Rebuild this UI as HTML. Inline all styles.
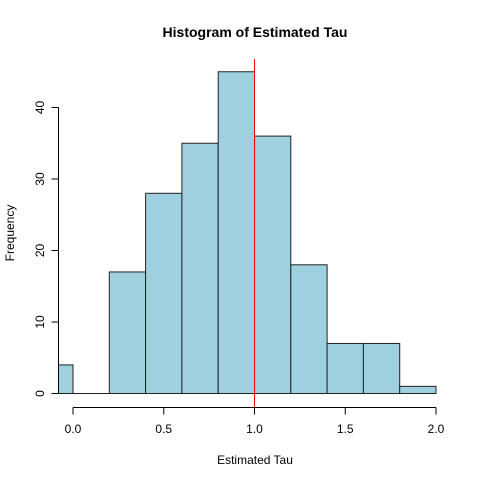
<!DOCTYPE html>
<html><head><meta charset="utf-8"><style>
body{margin:0;background:#fff;}
svg{display:block;font-family:"Liberation Sans",Arial,sans-serif;}
</style></head><body>
<svg id="chart" width="480" height="480">
<defs><clipPath id="plotclip"><rect x="58.5" y="59" width="392" height="348"/></clipPath></defs>
<text x="255" y="37" text-anchor="middle" font-size="14" font-weight="bold">Histogram of Estimated Tau</text>
<text x="255" y="464" text-anchor="middle" font-size="12">Estimated Tau</text>
<text transform="translate(14,233) rotate(-90)" text-anchor="middle" font-size="12">Frequency</text>
<g id="bars" clip-path="url(#plotclip)"></g>
<g id="axes"></g>
</svg>
<script>
const binStarts=[-0.2,0,0.2,0.4,0.6,0.8,1.0,1.2,1.4,1.6,1.8];
const counts=[4,0,17,28,35,45,36,18,7,7,1];
const binWidth=0.2;
const xTicks=[0,0.5,1.0,1.5,2.0];
const xTickLabels=["0.0","0.5","1.0","1.5","2.0"];
const yTicks=[0,10,20,30,40];
const refValue=1.0;
const ns="http://www.w3.org/2000/svg";
const xs=v=>73+v*(436-73)/2;
const ys=v=>393.5-v*(393.5-107.5)/40;
const bars=document.getElementById('bars'),axes=document.getElementById('axes');
function mk(tag,attrs,parent){const e=document.createElementNS(ns,tag);for(const k in attrs)e.setAttribute(k,attrs[k]);parent.appendChild(e);return e;}
binStarts.forEach((b,i)=>{
 const x0=xs(b),x1=xs(b+binWidth),y=ys(counts[i]);
 let r;
 if(counts[i]===0){
  r=mk('line',{x1:x0,x2:x1,y1:ys(0),y2:ys(0),stroke:'#222','stroke-width':1},bars);
 } else {
  r=mk('rect',{x:x0,y:y,width:x1-x0,height:ys(0)-y,fill:'#9fd0e0',stroke:'#222','stroke-width':1},bars);
 }
 
 
});
const rl=mk('line',{x1:xs(refValue),x2:xs(refValue),y1:59,y2:407,stroke:'#ff0000','stroke-width':1},bars);


const xa=mk('line',{x1:xs(xTicks[0]),x2:xs(xTicks[xTicks.length-1]),y1:407.5,y2:407.5,stroke:'#000'},axes);


xTicks.forEach((t,i)=>{
 mk('line',{x1:xs(t),x2:xs(t),y1:407.5,y2:414.5,stroke:'#000'},axes);
 const tx=mk('text',{x:xs(t),y:433,'text-anchor':'middle','font-size':12},axes);
 tx.textContent=xTickLabels[i];
 
 
});
const ya=mk('line',{x1:58.5,x2:58.5,y1:ys(yTicks[0]),y2:ys(yTicks[yTicks.length-1]),stroke:'#000'},axes);


yTicks.forEach(t=>{
 mk('line',{x1:51.5,x2:58.5,y1:ys(t),y2:ys(t),stroke:'#000'},axes);
 const tx=mk('text',{transform:`translate(44,${ys(t)}) rotate(-90)`,'text-anchor':'middle','font-size':12},axes);
 tx.textContent=String(t);
 
 
});
</script>
</body></html>
